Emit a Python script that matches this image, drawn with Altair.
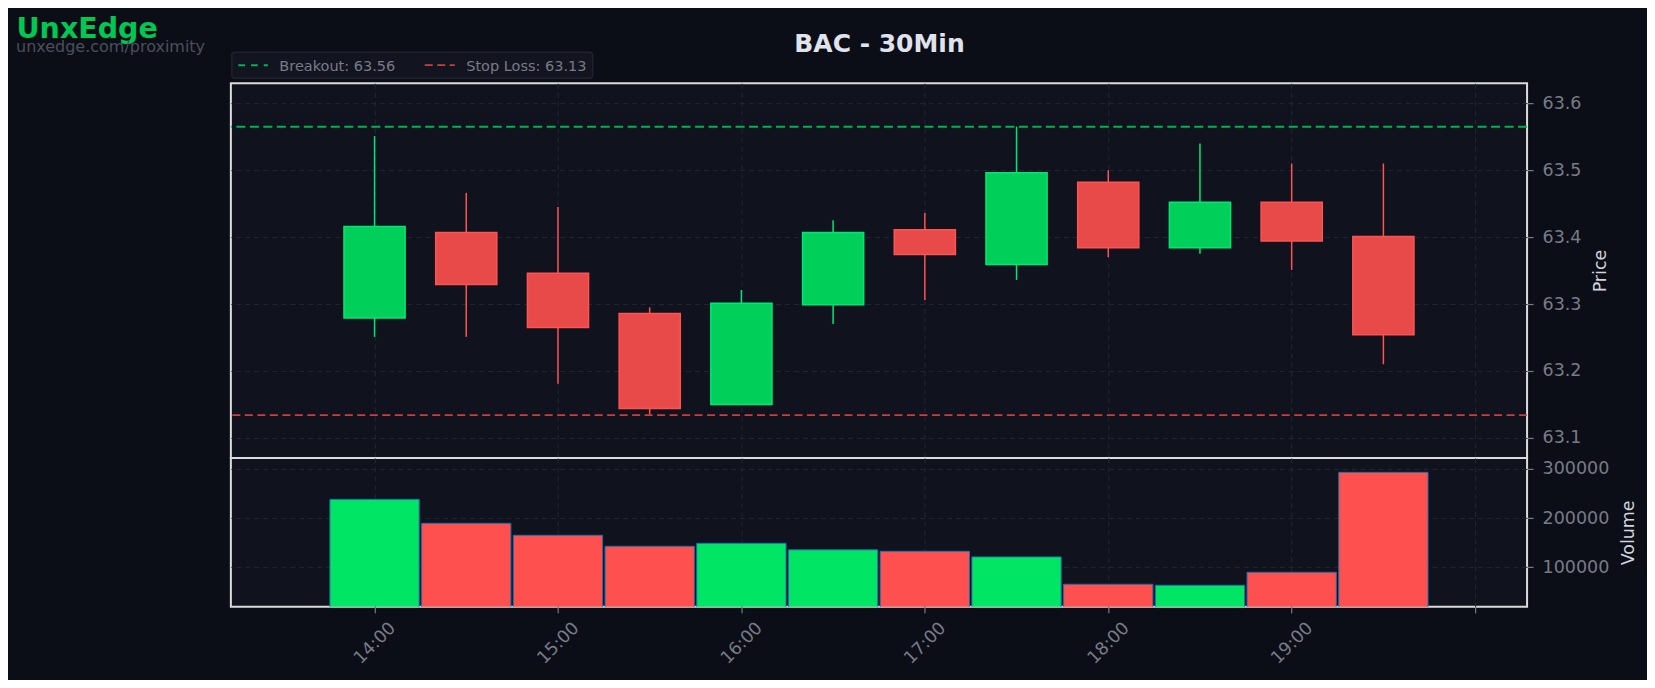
import altair as alt
import numpy as np
import pandas as pd

# ---------------- data ----------------
DAY = "2024-01-02"
times = ["14:00", "14:30", "15:00", "15:30", "16:00", "16:30",
         "17:00", "17:30", "18:00", "18:30", "19:00", "19:30"]
opens = [63.279, 63.407, 63.346, 63.286, 63.150, 63.299,
         63.411, 63.359, 63.482, 63.384, 63.452, 63.401]
highs = [63.551, 63.466, 63.445, 63.295, 63.321, 63.425,
         63.436, 63.565, 63.500, 63.540, 63.510, 63.510]
lows = [63.251, 63.251, 63.181, 63.135, 63.150, 63.270,
        63.306, 63.336, 63.370, 63.375, 63.351, 63.210]
closes = [63.416, 63.329, 63.265, 63.144, 63.301, 63.407,
          63.374, 63.496, 63.384, 63.452, 63.394, 63.254]
volumes = [238200, 189400, 165000, 142700, 148800, 135400,
           132500, 121100, 65400, 63400, 89800, 293100]

breakout_level = 63.565
stop_level = 63.134
legend_labels = ["Breakout: 63.56", "Stop Loss: 63.13"]
price_ticks = [63.1, 63.2, 63.3, 63.4, 63.5, 63.6]
volume_ticks = [100000, 200000, 300000]
hour_ticks = [14, 15, 16, 17, 18, 19, 20]
title_text = "BAC - 30Min"
brand_text = "UnxEdge"
brand_url = "unxedge.com/proximity"

# ---------------- styling ----------------
BG = "#0b0e17"
PLOT_BG = "#10131e"
UP_FILL, DOWN_FILL = "#00d05a", "#e84a4a"
UP_EDGE, DOWN_EDGE = "#00e676", "#ff5252"
VOL_UP, VOL_DOWN = "#00e664", "#ff5050"
GRID = "#232732"
MUTED = "#787b86"
FONT = "DejaVu Sans"

W, H_PRICE, H_VOL = 1297, 375, 149

df = pd.DataFrame({
    "time": pd.to_datetime([f"{DAY}T{t}:00" for t in times]),
    "open": opens, "high": highs, "low": lows, "close": closes,
    "volume": volumes,
})
df["dir"] = np.where(df["close"] >= df["open"], "up", "down")
df["body_start"] = df["time"] - pd.Timedelta(minutes=10)
df["body_end"] = df["time"] + pd.Timedelta(minutes=10)
df["bar_start"] = df["time"] - pd.Timedelta(minutes=14.6)
df["bar_end"] = df["time"] + pd.Timedelta(minutes=14.6)


def dt(h, m=0):
    return alt.DateTime(year=2024, month=1, date=2, hours=h, minutes=m)


x_scale = alt.Scale(domain=[dt(13, 13), dt(20, 17)])
tick_values = [dt(h) for h in hour_ticks]
dirs = ["up", "down"]

base = alt.Chart(df)

wicks = base.mark_rule(strokeWidth=1.5).encode(
    x=alt.X("time:T", scale=x_scale,
            axis=alt.Axis(values=tick_values, labels=False, ticks=False,
                          domain=False, title=None, grid=True)),
    y=alt.Y("low:Q", scale=alt.Scale(domain=[63.07, 63.63], zero=False, nice=False),
            axis=alt.Axis(orient="right", values=price_ticks, format=".1f",
                          title="Price", titleAngle=270, titlePadding=29,
                          tickSize=6, labelPadding=9)),
    y2="high:Q",
    stroke=alt.Stroke("dir:N", scale=alt.Scale(domain=dirs, range=[UP_EDGE, DOWN_EDGE]),
                      legend=None),
)

bodies = base.mark_bar(strokeWidth=1.5).encode(
    x="body_start:T",
    x2="body_end:T",
    y="open:Q",
    y2="close:Q",
    fill=alt.Fill("dir:N", scale=alt.Scale(domain=dirs, range=[UP_FILL, DOWN_FILL]),
                  legend=None),
    stroke=alt.Stroke("dir:N", legend=None),
)

breakout_rule = alt.Chart(pd.DataFrame({"level": [breakout_level]})).mark_rule(
    color="#00b350", strokeWidth=2, strokeDash=[9, 4.5]
).encode(y="level:Q")

stop_rule = alt.Chart(pd.DataFrame({"level": [stop_level]})).mark_rule(
    color="#c93f40", strokeWidth=1.6, strokeDash=[8, 4.5]
).encode(y="level:Q")


def one(text):
    return alt.Chart(pd.DataFrame({"label": [text]}))


# background anchors fixing the drawing's extent (page corners)
anchor_tl = one("").mark_rect(fill=BG).encode(
    x=alt.value(-222), x2=alt.value(-221), y=alt.value(-74), y2=alt.value(-73))
anchor_br = one("").mark_rect(fill=BG).encode(
    x=alt.value(1415), x2=alt.value(1416), y=alt.value(595), y2=alt.value(596))

title = one(title_text).mark_text(
    font=FONT, fontSize=25, fontWeight="bold", color="#e0e3eb",
    align="center", baseline="alphabetic"
).encode(text="label:N", x=alt.value(649), y=alt.value(-31))

brand = one(brand_text).mark_text(
    font=FONT, fontSize=28.5, fontWeight="bold", color="#00c853",
    align="left", baseline="alphabetic"
).encode(text="label:N", x=alt.value(-214.5), y=alt.value(-45.5))

brand_sub = one(brand_url).mark_text(
    font=FONT, fontSize=16, color="#4b4f5b",
    align="left", baseline="alphabetic"
).encode(text="label:N", x=alt.value(-215), y=alt.value(-31.5))

legend_box = one("").mark_rect(
    fill="#121520", stroke="#1f232e", strokeWidth=1.5, cornerRadius=3
).encode(x=alt.value(1), x2=alt.value(362), y=alt.value(-31), y2=alt.value(-5))

legend_green = one("").mark_rule(color="#00b350", strokeWidth=2, strokeDash=[6.7, 6]).encode(
    x=alt.value(7.5), x2=alt.value(37), y=alt.value(-18))
legend_red = one("").mark_rule(color="#c93f40", strokeWidth=1.6, strokeDash=[8, 4.5]).encode(
    x=alt.value(194), x2=alt.value(224), y=alt.value(-18))

legend_t1 = one(legend_labels[0]).mark_text(
    font=FONT, fontSize=14.5, color=MUTED, align="left", baseline="alphabetic"
).encode(text="label:N", x=alt.value(48.5), y=alt.value(-12.5))
legend_t2 = one(legend_labels[1]).mark_text(
    font=FONT, fontSize=14.5, color=MUTED, align="left", baseline="alphabetic"
).encode(text="label:N", x=alt.value(235.5), y=alt.value(-12.5))

price = alt.layer(
    anchor_tl, anchor_br,
    wicks, bodies, breakout_rule, stop_rule,
    title, brand, brand_sub,
    legend_box, legend_green, legend_red, legend_t1, legend_t2,
).properties(width=W, height=H_PRICE)

volume = base.mark_bar(clip=True, stroke="#1f6fb0", strokeWidth=1).encode(
    x=alt.X("bar_start:T", scale=x_scale,
            axis=alt.Axis(values=tick_values, title=None, grid=True,
                          labelExpr="hours(datum.value) == 20 ? '' : timeFormat(datum.value, '%H:%M')",
                          labelAngle=-45, labelAlign="center", labelBaseline="middle",
                          labelPadding=30, tickSize=6, labelFlush=False,
                          labelOverlap=False)),
    x2="bar_end:T",
    y=alt.Y("volume:Q", stack=None,
            scale=alt.Scale(domain=[19500, 322400], zero=False, nice=False),
            axis=alt.Axis(orient="right", values=volume_ticks, format="d",
                          title="Volume", titleAngle=270, titlePadding=29,
                          tickSize=6, labelPadding=9)),
    y2=alt.datum(0),
    fill=alt.Fill("dir:N", scale=alt.Scale(domain=dirs, range=[VOL_UP, VOL_DOWN]),
                  legend=None),
).properties(width=W, height=H_VOL)

chart = alt.vconcat(price, volume, spacing=0, bounds="flush").resolve_scale(
    fill="independent", stroke="independent"
).configure(
    background=BG, padding=0, font=FONT
).configure_view(
    fill=PLOT_BG, stroke="#dcdcdc", strokeWidth=2
).configure_axis(
    gridColor=GRID, gridDash=[5, 4], gridWidth=1,
    labelColor=MUTED, labelFont=FONT, labelFontSize=17.5,
    tickColor=MUTED, tickWidth=1.2, domain=False,
    titleColor="#d1d4dc", titleFont=FONT, titleFontSize=17.5,
    titleFontWeight="normal",
)

chart.save("out.html", embed_options={"renderer": "svg", "actions": False})
